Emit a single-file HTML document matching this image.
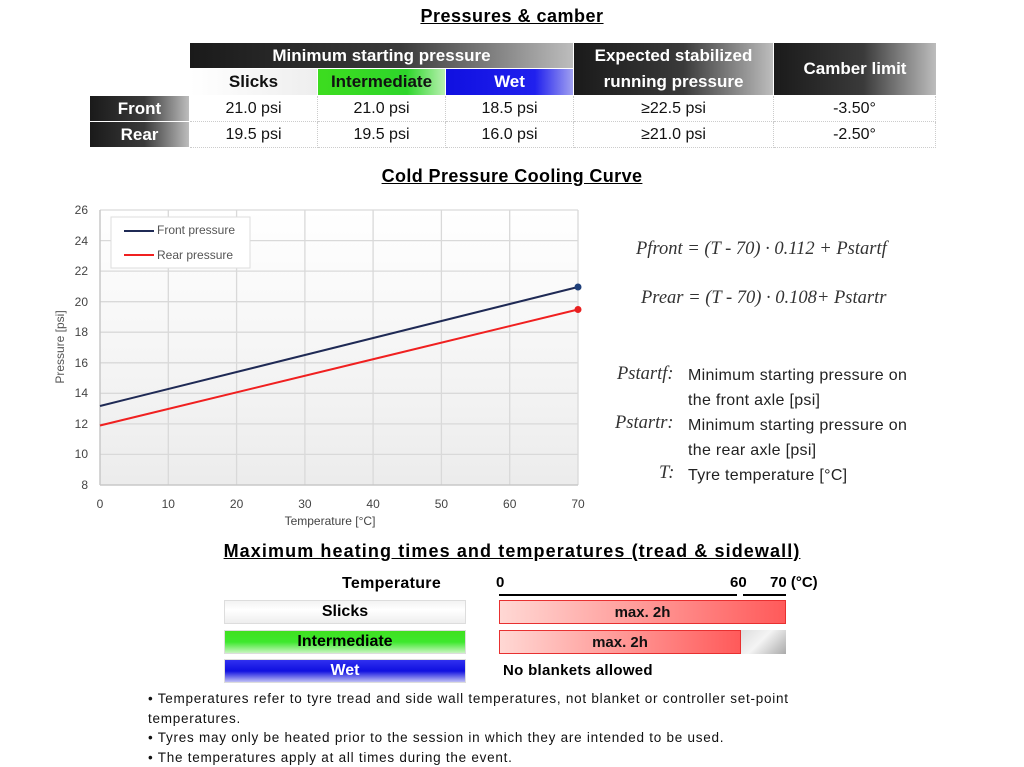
<!DOCTYPE html>
<html><head><meta charset="utf-8"><style>
body{margin:0;width:1024px;height:762px;background:#fff;position:relative;overflow:hidden;font-family:"Liberation Sans",sans-serif;}
.a{position:absolute;}
.t{font-weight:bold;text-decoration:underline;font-size:18px;color:#000;text-align:center;}
.c{position:absolute;display:flex;align-items:center;justify-content:center;font-size:16px;color:#111;box-sizing:border-box;}
.dk{background:linear-gradient(90deg,#1a1a1a 0%,#3a3a3a 55%,#bdbdbd 100%);color:#fff;font-weight:bold;}
.cell{border-right:1px dotted #ccc;border-bottom:1px dotted #ccc;}
.lbl{position:absolute;height:24px;width:242px;display:flex;align-items:center;justify-content:center;font-weight:bold;font-size:16px;box-sizing:border-box;border:1px solid #ddd;}
.f{font-family:"Liberation Serif",serif;font-style:italic;font-size:18.5px;color:#333;position:absolute;}
.n{font-size:16px;letter-spacing:0.3px;color:#222;position:absolute;}
</style></head><body>
<div class="a t" style="left:0;width:1024px;top:6px;letter-spacing:0.5px;">Pressures &amp; camber</div>
<div class="c dk" style="left:190px;top:43px;width:383px;height:25px;font-size:17px;">Minimum starting pressure</div>
<div class="c dk" style="left:574px;top:43px;width:199px;height:52px;font-size:17px;line-height:26px;text-align:center;">Expected stabilized<br>running pressure</div>
<div class="c dk" style="left:774px;top:43px;width:162px;height:52px;font-size:17px;">Camber limit</div>
<div class="c" style="left:190px;top:69px;width:127px;height:26px;background:linear-gradient(90deg,#fff,#eee);font-weight:bold;font-size:17px;">Slicks</div>
<div class="c" style="left:318px;top:69px;width:127px;height:26px;background:linear-gradient(90deg,#3ddc1f,#2ed62b 70%,#b8f0b0);font-weight:bold;font-size:17px;">Intermediate</div>
<div class="c" style="left:446px;top:69px;width:127px;height:26px;background:linear-gradient(90deg,#1010e0,#2020ee 70%,#a0a0f0);color:#fff;font-weight:bold;font-size:17px;">Wet</div>
<div class="c dk" style="left:90px;top:96px;width:99px;height:25px;font-size:17px;">Front</div>
<div class="c dk" style="left:90px;top:122px;width:99px;height:25px;font-size:17px;">Rear</div>
<div class="c cell" style="left:190px;top:96px;width:128px;height:26px;">21.0 psi</div>
<div class="c cell" style="left:318px;top:96px;width:128px;height:26px;">21.0 psi</div>
<div class="c cell" style="left:446px;top:96px;width:128px;height:26px;">18.5 psi</div>
<div class="c cell" style="left:574px;top:96px;width:200px;height:26px;">≥22.5 psi</div>
<div class="c cell" style="left:774px;top:96px;width:162px;height:26px;">-3.50°</div>
<div class="c cell" style="left:190px;top:122px;width:128px;height:26px;">19.5 psi</div>
<div class="c cell" style="left:318px;top:122px;width:128px;height:26px;">19.5 psi</div>
<div class="c cell" style="left:446px;top:122px;width:128px;height:26px;">16.0 psi</div>
<div class="c cell" style="left:574px;top:122px;width:200px;height:26px;">≥21.0 psi</div>
<div class="c cell" style="left:774px;top:122px;width:162px;height:26px;">-2.50°</div>

<div class="a t" style="left:0;width:1024px;top:166px;letter-spacing:0.4px;">Cold Pressure Cooling Curve</div>
<svg class="a" style="left:0;top:195px" width="600" height="340" viewBox="0 195 600 340" font-family="Liberation Sans,sans-serif">
<defs><linearGradient id="g" x1="0" y1="0" x2="0" y2="1"><stop offset="0" stop-color="#fff"/><stop offset="1" stop-color="#ececec"/></linearGradient></defs>
<rect x="100" y="210" width="478" height="275" fill="url(#g)"/>
<g stroke="#d9d9d9" stroke-width="1.3">
<line x1="100" y1="210" x2="578" y2="210"/><line x1="100" y1="240.6" x2="578" y2="240.6"/><line x1="100" y1="271.1" x2="578" y2="271.1"/><line x1="100" y1="301.7" x2="578" y2="301.7"/><line x1="100" y1="332.2" x2="578" y2="332.2"/><line x1="100" y1="362.8" x2="578" y2="362.8"/><line x1="100" y1="393.3" x2="578" y2="393.3"/><line x1="100" y1="423.9" x2="578" y2="423.9"/><line x1="100" y1="454.4" x2="578" y2="454.4"/>
<line x1="168.3" y1="210" x2="168.3" y2="485"/><line x1="236.6" y1="210" x2="236.6" y2="485"/><line x1="304.9" y1="210" x2="304.9" y2="485"/><line x1="373.1" y1="210" x2="373.1" y2="485"/><line x1="441.4" y1="210" x2="441.4" y2="485"/><line x1="509.7" y1="210" x2="509.7" y2="485"/><line x1="578" y1="210" x2="578" y2="485"/>
</g>
<line x1="100" y1="485" x2="578" y2="485" stroke="#c8c8c8" stroke-width="1.5"/>
<line x1="100" y1="210" x2="100" y2="485" stroke="#c8c8c8" stroke-width="1.5"/>
<g font-size="12" fill="#444" text-anchor="end">
<text x="88" y="214">26</text><text x="88" y="245">24</text><text x="88" y="275">22</text><text x="88" y="306">20</text><text x="88" y="336">18</text><text x="88" y="367">16</text><text x="88" y="397">14</text><text x="88" y="428">12</text><text x="88" y="458">10</text><text x="88" y="489">8</text>
</g>
<g font-size="12" fill="#444" text-anchor="middle">
<text x="100" y="508">0</text><text x="168.3" y="508">10</text><text x="236.6" y="508">20</text><text x="304.9" y="508">30</text><text x="373.1" y="508">40</text><text x="441.4" y="508">50</text><text x="509.7" y="508">60</text><text x="578" y="508">70</text>
<text x="330" y="525">Temperature [°C]</text>
</g>
<text transform="translate(64,347) rotate(-90)" font-size="12" fill="#555" text-anchor="middle">Pressure [psi]</text>
<rect x="111" y="217" width="139" height="51" fill="#fff" stroke="#ddd"/>
<line x1="124" y1="231" x2="154" y2="231" stroke="#1f2a55" stroke-width="2"/>
<line x1="124" y1="255" x2="154" y2="255" stroke="#f02020" stroke-width="2"/>
<text x="157" y="234" font-size="12" fill="#555">Front pressure</text>
<text x="157" y="259" font-size="12" fill="#555">Rear pressure</text>
<line x1="100" y1="406" x2="578" y2="287" stroke="#1f2a55" stroke-width="2"/>
<line x1="100" y1="425.5" x2="578" y2="309.5" stroke="#f02020" stroke-width="2"/>
<circle cx="578" cy="287" r="3.5" fill="#1f3f7a"/>
<circle cx="578" cy="309.5" r="3.5" fill="#e82020"/>
</svg>

<div class="f" style="left:636px;top:239px;">Pfront = (T - 70) · 0.112 + Pstartf</div>
<div class="f" style="left:641px;top:288px;">Prear = (T - 70) · 0.108+ Pstartr</div>
<div class="f" style="left:617px;top:364px;">Pstartf:</div>
<div class="f" style="left:615px;top:413px;">Pstartr:</div>
<div class="f" style="left:659px;top:463px;">T:</div>
<div class="n" style="left:688px;top:363px;line-height:25px;">Minimum starting pressure on<br>the front axle [psi]<br>Minimum starting pressure on<br>the rear axle [psi]<br>Tyre temperature [°C]</div>

<div class="a t" style="left:0;width:1024px;top:541px;letter-spacing:1.1px;">Maximum heating times and temperatures (tread &amp; sidewall)</div>
<div class="a" style="left:342px;top:575px;font-weight:bold;font-size:16px;letter-spacing:0.3px;">Temperature</div>
<div class="a" style="left:496px;top:574px;font-weight:bold;font-size:15px;">0</div>
<div class="a" style="left:730px;top:574px;font-weight:bold;font-size:15px;">60</div>
<div class="a" style="left:770px;top:574px;font-weight:bold;font-size:15px;">70 (°C)</div>
<div class="a" style="left:499px;top:594px;width:238px;height:2px;background:#000;"></div>
<div class="a" style="left:743px;top:594px;width:43px;height:2px;background:#000;"></div>
<div class="lbl" style="left:224px;top:600px;background:linear-gradient(180deg,#f3f3f3,#fff 40%,#eee);">Slicks</div>
<div class="lbl" style="left:224px;top:630px;background:linear-gradient(180deg,#3fe020,#3ee82e 50%,#c8f5c0);">Intermediate</div>
<div class="lbl" style="left:224px;top:659px;background:linear-gradient(180deg,#3030f0,#1010e0 50%,#c0c0f5);color:#fff;">Wet</div>
<div class="c" style="left:499px;top:600px;width:287px;height:24px;background:linear-gradient(90deg,#ffd8d4,#ff5a5a);border:1px solid #e83030;font-weight:bold;font-size:15px;">max. 2h</div>
<div class="c" style="left:499px;top:630px;width:242px;height:24px;background:linear-gradient(90deg,#ffd8d4,#ff5a5a);border:1px solid #e83030;font-weight:bold;font-size:15px;">max. 2h</div>
<div class="a" style="left:741px;top:630px;width:45px;height:24px;background:linear-gradient(135deg,#ddd,#f4f4f4 45%,#aaa);"></div>
<div class="a" style="left:503px;top:662px;font-weight:bold;font-size:15px;letter-spacing:0.3px;">No blankets allowed</div>
<div class="a" style="left:148px;top:689px;font-size:13.5px;letter-spacing:0.75px;line-height:19.5px;color:#111;width:720px;">• Temperatures refer to tyre tread and side wall temperatures, not blanket or controller set-point<br>temperatures.<br>• Tyres may only be heated prior to the session in which they are intended to be used.<br>• The temperatures apply at all times during the event.</div>
</body></html>
